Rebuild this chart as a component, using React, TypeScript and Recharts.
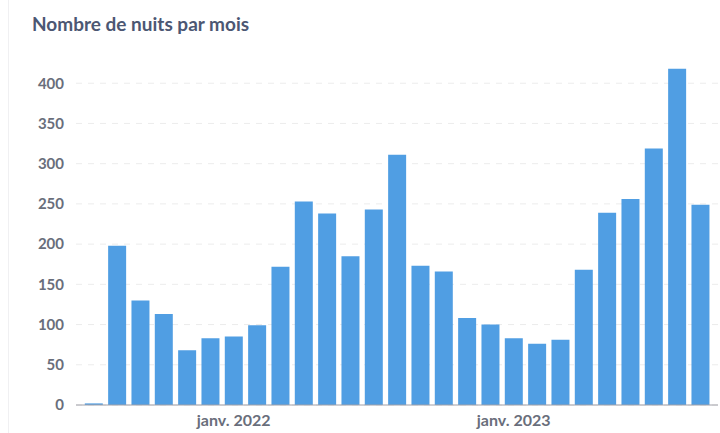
import { BarChart, Bar, XAxis, YAxis, CartesianGrid } from "recharts";

// Monthly categories, July 2021 to September 2023
const months = [
  "2021-07", "2021-08", "2021-09", "2021-10", "2021-11", "2021-12",
  "2022-01", "2022-02", "2022-03", "2022-04", "2022-05", "2022-06",
  "2022-07", "2022-08", "2022-09", "2022-10", "2022-11", "2022-12",
  "2023-01", "2023-02", "2023-03", "2023-04", "2023-05", "2023-06",
  "2023-07", "2023-08", "2023-09",
];

const nights = [
  2, 198, 130, 113, 68, 83, 85, 99, 172, 253, 238, 185, 243, 311,
  173, 166, 108, 100, 83, 76, 81, 168, 239, 256, 319, 418, 249,
];

const xTicks = ["2022-01", "2023-01"];
const xTickLabels: Record<string, string> = {
  "2022-01": "janv. 2022",
  "2023-01": "janv. 2023",
};
const yTicks = [0, 50, 100, 150, 200, 250, 300, 350, 400];

const data = months.map((m, i) => ({ month: m, nights: nights[i] }));

const FONT = "Lato, 'Noto Sans', sans-serif";

export default function App() {
  return (
    <div
      style={{
        position: "absolute",
        left: 0,
        top: 0,
        width: 720,
        height: 433,
        background: "#fff",
        fontFamily: FONT,
      }}
    >
      <div
        style={{
          position: "absolute",
          left: 8,
          top: 0,
          width: 1,
          height: 433,
          background: "#f0f0f2",
        }}
      />
      <div
        style={{
          position: "absolute",
          left: 32,
          top: 12,
          fontSize: 19,
          fontWeight: 700,
          color: "#4c5773",
        }}
      >
        Nombre de nuits par mois
      </div>
      <BarChart
        width={720}
        height={433}
        data={data}
        margin={{ top: 43, right: 2, bottom: 4, left: 0 }}
        barCategoryGap="12%"
      >
        <CartesianGrid
          vertical={false}
          horizontalValues={yTicks}
          stroke="#ececec"
          strokeDasharray="6 6"
        />
        <XAxis
          dataKey="month"
          ticks={xTicks}
          tickFormatter={(v: string) => xTickLabels[v] ?? ""}
          interval={0}
          height={24}
          padding={{ left: 6, right: 6 }}
          tickLine={false}
          tickMargin={4}
          axisLine={{ stroke: "#a0a0a8" }}
          tick={{ fontSize: 16, fontWeight: 700, fill: "#696e7b", fontFamily: FONT }}
        />
        <YAxis
          domain={[0, 450]}
          ticks={yTicks}
          width={76}
          tickLine={false}
          axisLine={false}
          tickSize={6}
          tickMargin={6}
          tick={{ fontSize: 15, fontWeight: 700, fill: "#696e7b", fontFamily: FONT }}
        />
        <Bar dataKey="nights" fill="#509ee3" isAnimationActive={false} />
      </BarChart>
    </div>
  );
}
